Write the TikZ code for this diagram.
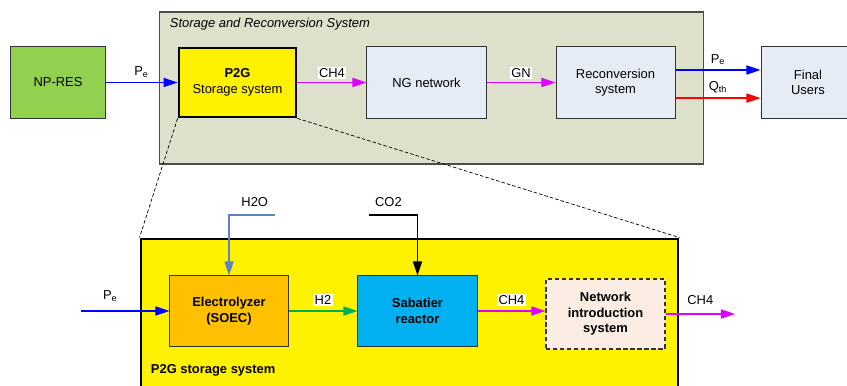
\documentclass[tikz,border=0pt]{standalone}
\usepackage{fontspec}
\setmainfont{Liberation Sans}
\usetikzlibrary{arrows.meta}

\definecolor{srsback}{RGB}{221,224,203}
\definecolor{resgreen}{RGB}{146,208,80}
\definecolor{ngblue}{RGB}{230,236,246}
\definecolor{soecorange}{RGB}{255,192,0}
\definecolor{sabblue}{RGB}{0,176,240}
\definecolor{nispeach}{RGB}{251,237,227}
\definecolor{gasmag}{RGB}{221,0,255}
\definecolor{hgreen}{RGB}{0,176,80}
\definecolor{waterblue}{RGB}{91,132,196}

\tikzset{
  unit/.style={draw=black!80, line width=0.7pt, minimum width=2.975cm, minimum height=1.775cm, align=center},
  flow/.style={-{Triangle[length=10pt,width=6.5pt]}, line width=0.9pt},
  tag/.style={fill=white, inner sep=1pt},
}

\begin{document}
\begin{tikzpicture}[x=0.025cm,y=-0.025cm,font=\fontsize{9.2}{11}\selectfont]
    \clip (0,0) rectangle (847,386);
    % upper level: storage and reconversion chain
    \node[draw=black!70,fill=srsback,line width=0.8pt,minimum width=13.575cm,minimum height=3.8cm](srs)at(431.5,88){};
    \node[anchor=west]at(165,24){\itshape Storage and Reconversion System};
    \node[unit,fill=resgreen,minimum width=2.35cm](npres)at(58,82.5){NP-RES};
    \node[unit,fill=yellow,draw=black,line width=2pt,minimum width=2.925cm,minimum height=1.725cm](p2g)at(237.5,82.5){\textbf{P2G}\\Storage system};
    \node[unit,fill=ngblue](ngnet)at(426.5,82.5){NG network};
    \node[unit,fill=ngblue](reconv)at(615.5,82.5){Reconversion\\system};
    \node[unit,fill=ngblue,minimum width=2.35cm](users)at(808,82.5){Final\\Users};
    \draw[flow,blue](npres)--node[above,text=black]{P\textsubscript{e}}(p2g);
    \draw[flow,gasmag](p2g)--node[above=2pt,tag,text=black]{CH4}(ngnet);
    \draw[flow,gasmag](ngnet)--node[above=2pt,tag,text=black]{GN}(reconv);
    \draw[flow,blue]([yshift=0.3125cm]reconv.east)--node[above,text=black]{P\textsubscript{e}}([yshift=0.3125cm]users.west);
    \draw[flow,red]([yshift=-0.39cm]reconv.east)--node[above,text=black]{Q\textsubscript{th}}([yshift=-0.39cm]users.west);
    % lower level: inside the P2G storage system
    \node[draw=black,fill=yellow,line width=2pt,minimum width=13.425cm,minimum height=3.95cm](p2gbig)at(409.5,318){};
    \draw[dashed,dash pattern=on 2.5pt off 1.5pt,line width=0.5pt](p2g.south west)--(p2gbig.north west);
    \draw[dashed,dash pattern=on 2.5pt off 1.5pt,line width=0.5pt](p2g.south east)--(p2gbig.north east);
    \node[anchor=west]at(146,370){\bfseries P2G storage system};
    \node[unit,fill=soecorange,minimum width=2.95cm,minimum height=1.75cm](soec)at(229,311){\bfseries Electrolyzer\\\bfseries (SOEC)};
    \node[unit,fill=sabblue,minimum height=1.75cm](sabatier)at(417.5,311){\bfseries Sabatier\\\bfseries reactor};
    \node[unit,fill=nispeach,dashed,dash pattern=on 3pt off 2pt,line width=0.8pt,minimum height=1.75cm](nis)at(605.5,314){\bfseries Network\\\bfseries introduction\\\bfseries system};
    \coordinate(pein)at(81,311);
    \coordinate(h2oin)at(275,215);
    \coordinate(co2in)at(369,215);
    \coordinate(ch4out)at(735,314);
    \draw[flow,blue](pein)--node[pos=0.33,above=3pt,text=black]{P\textsubscript{e}}(soec);
    \draw[flow,waterblue](h2oin)-|node[pos=0.22,above=2pt,text=black]{H2O}(soec.north);
    \draw[flow,black](co2in)-|node[pos=0.2,above=2pt]{CO2}(sabatier.north);
    \draw[flow,hgreen](soec)--node[above=3pt,tag,text=black]{H2}(sabatier);
    \draw[flow,gasmag](sabatier.east)--node[above=3pt,tag,text=black]{CH4}(sabatier.east-|nis.west);
    \draw[flow,gasmag](nis.east)--node[above=3pt,text=black]{CH4}(ch4out);
\end{tikzpicture}
\end{document}
